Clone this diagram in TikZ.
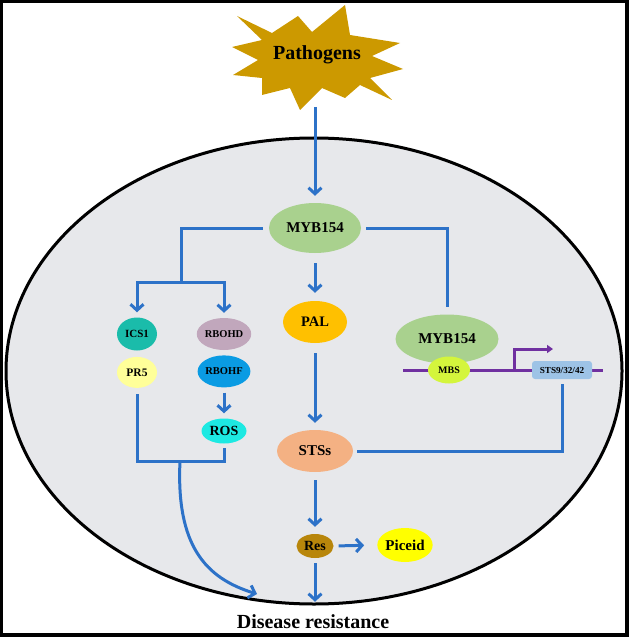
\documentclass[tikz,border=0pt]{standalone}
\usepackage{fontspec}
\setmainfont{Liberation Serif}
\usetikzlibrary{positioning,shapes.geometric,arrows.meta}

\definecolor{burst}{RGB}{204,153,0}
\definecolor{linkblue}{RGB}{45,114,200}
\definecolor{cellgray}{RGB}{231,232,235}
\definecolor{mybgreen}{RGB}{169,209,142}
\definecolor{icsteal}{RGB}{26,188,170}
\definecolor{prpale}{RGB}{255,255,153}
\definecolor{rbohdmauve}{RGB}{193,167,188}
\definecolor{rbohfblue}{RGB}{10,155,227}
\definecolor{roscyan}{RGB}{29,233,226}
\definecolor{palorange}{RGB}{255,192,0}
\definecolor{stssalmon}{RGB}{244,177,131}
\definecolor{mbslime}{RGB}{212,245,60}
\definecolor{boxblue}{RGB}{157,195,230}
\definecolor{dnapurple}{RGB}{112,48,160}
\definecolor{resgold}{RGB}{184,134,11}
\definecolor{piceidyellow}{RGB}{255,255,0}

\begin{document}
\begin{tikzpicture}[x=1pt,y=-1pt,
	gene/.style={ellipse, inner sep=0pt},
	fsz/.style={font=\bfseries\fontsize{#1}{#1}\selectfont},
	link/.style={draw=linkblue, line width=3pt},
	dna/.style={draw=dnapurple, line width=3pt},
	>={Straight Barb[length=6pt,width=13pt]}]
	\useasboundingbox (0,0) rectangle (630,639);
	\draw[line width=3.4pt] (1.5,1.5) rectangle (627,635);

	% cell
	\draw[fill=cellgray, line width=3pt] (314,371) ellipse [x radius=308pt, y radius=233pt];

	% pathogen burst
	\fill[burst] (237,16) -- (272,33) -- (298,16) -- (312,32) -- (345,5) -- (350,35)
		-- (400,43) -- (372,56) -- (403,69) -- (370,78) -- (392,100) -- (360,85)
		-- (345,98) -- (322,88) -- (300,110) -- (290,88) -- (262,95) -- (262,78)
		-- (233,75) -- (258,60) -- (232,47) -- (262,40) -- cycle;
	\node[fsz=20] (patho) at (317,55) {Pathogens};
	\coordinate (burstend) at (315,107);

	\node[gene, fill=mybgreen, minimum width=92, minimum height=50, fsz=15] (myb) at (315,228) {MYB154};
	\draw[link,->,shorten >=7pt] (burstend) -- (myb.north);

	% left branch
	\node[gene, fill=icsteal, minimum width=40, minimum height=33, fsz=11] (ics) at (137,334) {ICS1};
	\node[gene, fill=prpale, minimum width=40, minimum height=31, fsz=11.5, below=6pt of ics] (pr) {PR5};
	\node[gene, fill=rbohdmauve, minimum width=48, minimum height=32, fsz=10.5] (rbohd) at (224,334) {RBOHD};
	\node[gene, fill=rbohfblue, minimum width=49, minimum height=32, fsz=10.5, below=5pt of rbohd] (rbohf) {RBOHF};
	\node[gene, fill=roscyan, minimum width=45, minimum height=25, fsz=14] (ros) at (224,431) {ROS};
	\coordinate (split) at (181,282);
	\coordinate (jn) at (180,461);
	\draw[link,shorten <=6pt] (myb.west) -| (split);
	\draw[link,->,shorten >=5pt] (split) -| (ics.north);
	\draw[link,->,shorten >=5pt] (split) -| (rbohd.north);
	\draw[link,->,shorten <=5pt,shorten >=5pt] (rbohf.south) -- (ros.north);
	\draw[link,shorten <=6pt,shorten >=4pt] (pr.south) |- (jn) -| (ros.south);

	% middle column
	\node[gene, fill=palorange, minimum width=64, minimum height=42, fsz=14.5] (pal) at (315,322) {PAL};
	\node[gene, fill=stssalmon, minimum width=76, minimum height=42, fsz=15] (sts) at (315,451) {STSs};
	\node[gene, fill=resgold, minimum width=37, minimum height=24, fsz=14] (res) at (315,546) {Res};
	\node[gene, fill=piceidyellow, minimum width=55, minimum height=34, fsz=15] (pic) at (405,545) {Piceid};
	\node[fsz=20, inner sep=0pt] (dis) at (313,622) {Disease resistance};
	\coordinate (distip) at (257,594);
	\draw[link,->,shorten <=10pt,shorten >=8pt] (myb.south) -- (pal.north);
	\draw[link,->,shorten <=10pt,shorten >=7pt] (pal.south) -- (sts.north);
	\draw[link,->,shorten <=8pt,shorten >=7pt] (sts.south) -- (res.north);
	\draw[link,->,shorten <=5pt,shorten >=13pt] (res.east) -- (pic.west);
	\draw[link,->,shorten <=5pt,shorten >=13pt] (res.south) -- (res.south |- dis.north);
	\draw[link,->] (jn) .. controls (176,545) and (205,578) .. (distip);

	% promoter
	\node[gene, fill=mybgreen, minimum width=103, minimum height=49, fsz=15] (myb2) at (447,339) {MYB154};
	\coordinate (dnaL) at (403,370);
	\coordinate (dnaR) at (603,370);
	\coordinate (prom) at (514,370);
	\coordinate (promtip) at (553,349);
	\draw[dna] (dnaL) -- (dnaR);
	\draw[dna,-{Triangle[length=6pt,width=8pt]}] (prom) |- (promtip);
	\node[gene, fill=mbslime, minimum width=42, minimum height=27, fsz=10] (mbs) at (449,370) {MBS};
	\node[fill=boxblue, rounded corners=3pt, minimum width=60, minimum height=18, inner sep=0pt, fsz=9.2] (stsbox) at (562,370) {STS9/32/42};
	\draw[link,shorten <=5pt,shorten >=7pt] (myb.east) -| (myb2.north);
	\draw[link,shorten <=4pt,shorten >=5pt] (sts.east) -| (stsbox.south);
\end{tikzpicture}
\end{document}
